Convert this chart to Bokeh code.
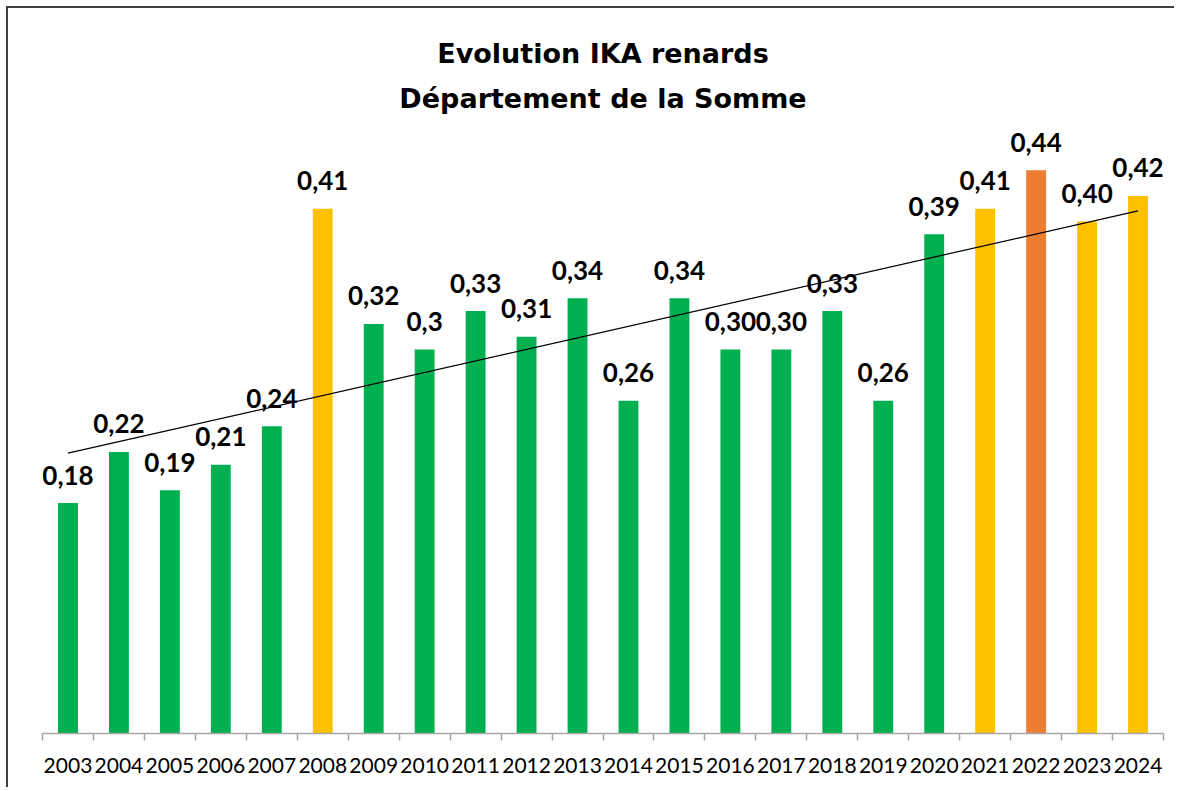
import numpy as np
from bokeh.plotting import figure
from bokeh.models import Range1d, FixedTicker, Title
from bokeh.core.properties import value
from bokeh.embed import file_html
from bokeh.resources import INLINE

years = ["2003", "2004", "2005", "2006", "2007", "2008", "2009", "2010", "2011",
         "2012", "2013", "2014", "2015", "2016", "2017", "2018", "2019", "2020",
         "2021", "2022", "2023", "2024"]
ika = [0.18, 0.22, 0.19, 0.21, 0.24, 0.41, 0.32, 0.30, 0.33, 0.31, 0.34, 0.26,
       0.34, 0.30, 0.30, 0.33, 0.26, 0.39, 0.41, 0.44, 0.40, 0.42]
ika_labels = ["0,18", "0,22", "0,19", "0,21", "0,24", "0,41", "0,32", "0,3", "0,33",
              "0,31", "0,34", "0,26", "0,34", "0,30", "0,30", "0,33", "0,26", "0,39",
              "0,41", "0,44", "0,40", "0,42"]
# bar colour class: g = green, y = gold, o = orange
bar_class = ["g", "g", "g", "g", "g", "y", "g", "g", "g", "g", "g", "g",
             "g", "g", "g", "g", "g", "g", "y", "o", "y", "y"]
title_lines = ["Evolution IKA renards", "Département de la Somme"]

palette = {"g": "#00B050", "y": "#FFC000", "o": "#ED7D31"}
colors = [palette[c] for c in bar_class]

n = len(years)
xc = [i + 0.5 for i in range(n)]

p = figure(frame_width=1121, frame_height=618,
           min_border_left=34, min_border_right=11, min_border_top=107, min_border_bottom=54,
           x_range=Range1d(0, n), y_range=Range1d(0, 0.4828),
           output_backend="svg", toolbar_location=None,
           background_fill_color="white", border_fill_color="white")
p.styles = {"border-left": "2px solid #404040", "border-top": "2px solid #404040",
            "border-right": "none", "border-bottom": "none",
            "outline": "none", "box-shadow": "none",
            "margin-left": "6px", "margin-top": "6px"}
p.outline_line_color = None
p.xgrid.visible = False
p.ygrid.visible = False
p.yaxis.visible = False

p.vbar(x=xc, top=ika, width=0.39, fill_color=colors, line_color=None)

# linear trend
coef = np.polyfit(np.arange(n), np.array(ika), 1)
tx = [xc[0], xc[-1]]
ty = [coef[1] + coef[0] * 0, coef[1] + coef[0] * (n - 1)]
p.line(tx, ty, line_color="black", line_width=1.2)

p.text(x=xc, y=ika, text=ika_labels, text_align="center", text_baseline="alphabetic",
       y_offset=-28, text_font=value("Lato"), text_font_style="bold",
       text_font_size="26px", text_color="black")

ax = p.xaxis[0]
ax.ticker = FixedTicker(ticks=xc, minor_ticks=list(range(n + 1)))
ax.major_label_overrides = {x: y for x, y in zip(xc, years)}
ax.major_tick_line_color = None
ax.major_tick_out = 0
ax.major_tick_in = 0
ax.minor_tick_out = 7
ax.minor_tick_in = 0
ax.minor_tick_line_color = "#A6A6A6"
ax.minor_tick_line_width = 1.5
ax.axis_line_color = "#A6A6A6"
ax.axis_line_width = 1.5
ax.major_label_text_font = "Lato"
ax.major_label_text_font_size = "21px"
ax.major_label_text_color = "black"
ax.major_label_standoff = 17

t2 = Title(text=title_lines[1], align="center", text_font="DejaVu Sans",
           text_font_style="bold", text_font_size="27px", text_color="black", standoff=3)
t1 = Title(text=title_lines[0], align="center", text_font="DejaVu Sans",
           text_font_style="bold", text_font_size="27px", text_color="black", standoff=22)
p.add_layout(t2, "above")
p.add_layout(t1, "above")

open("out.html", "w").write(file_html(p, INLINE))
